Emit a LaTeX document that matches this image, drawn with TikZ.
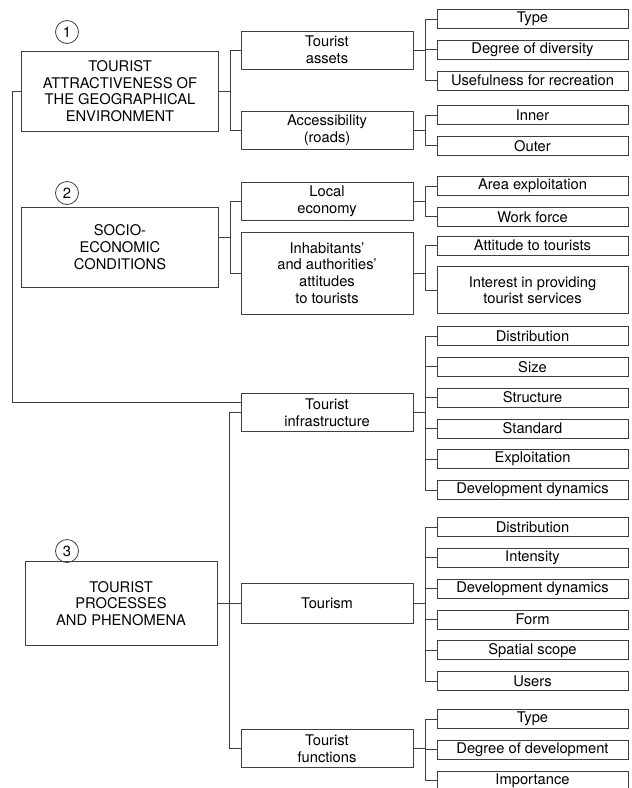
\documentclass[tikz,border=0pt]{standalone}
\usepackage{fontspec}
\setmainfont{TeX Gyre Heros}
\usepackage{tikz}
\usetikzlibrary{positioning}

\begin{document}
\begin{tikzpicture}[
	x=1pt, y=-1pt,
	font=\fontsize{14.7}{16.7}\selectfont,
	% Node styles
	topic/.style={
		rectangle, draw=black!75, line width=0.8pt,
		minimum width=197pt, align=center, inner sep=2pt
	},
	factor/.style={
		rectangle, draw=black!75, line width=0.8pt,
		minimum width=172pt, minimum height=38pt,
		align=center, inner sep=2pt
	},
	leaf/.style={
		rectangle, draw=black!75, line width=0.8pt,
		minimum width=191pt, minimum height=19pt,
		align=center, inner sep=2pt
	},
	num/.style={
		circle, draw=black!75, line width=0.8pt,
		minimum size=23pt, inner sep=0pt
	},
	link/.style={draw=black!75, line width=0.8pt}
	]
	
	\useasboundingbox (0,0) rectangle (632,788);
	
	%% ─── COLUMN 1: MAIN GROUPS ────────────────────────────────────────────────
	\node[num] (c1) at (67,32) {1};
	\node[topic, minimum height=80pt] (env) at (120,91)
	{TOURIST\\ATTRACTIVENESS OF\\THE GEOGRAPHICAL\\ENVIRONMENT};
	
	\node[num] (c2) at (67,193) {2};
	\node[topic, minimum height=80pt] (socio) at (120,247)
	{SOCIO-\\ECONOMIC\\CONDITIONS};
	
	\node[num] (c3) at (67,551) {3};
	\node[topic, minimum width=192pt, minimum height=84pt] (proc) at (121,603.5)
	{TOURIST\\PROCESSES\\AND PHENOMENA};
	
	%% ─── COLUMN 2: FACTORS ────────────────────────────────────────────────────
	\node[factor] (assets)  at (327,50)    {Tourist\\assets};
	\node[factor] (access)  at (327,130)   {Accessibility\\(roads)};
	\node[factor] (economy) at (327,201.5) {Local\\economy};
	\node[factor, minimum height=82pt] (inhab) at (327,273)
	{Inhabitants'\\and authorities'\\attitudes\\to tourists};
	\node[factor] (infra)   at (327,412.5) {Tourist\\infrastructure};
	\node[factor, minimum height=40pt] (tourism) at (327,603.5) {Tourism};
	\node[factor] (functions) at (327,748.5) {Tourist\\functions};
	
	%% ─── COLUMN 3: FEATURES ───────────────────────────────────────────────────
	\node[leaf] (type1) at (532.5,19) {Type};
	\node[leaf, below=11pt of type1] (diversity) {Degree of diversity};
	\node[leaf, below=11pt of diversity] (useful) {Usefulness for recreation};
	
	\node[leaf] (inner) at (532.5,115) {Inner};
	\node[leaf, below=11pt of inner] (outer) {Outer};
	
	\node[leaf] (area) at (532.5,186) {Area exploitation};
	\node[leaf, below=11pt of area] (workforce) {Work force};
	
	\node[leaf] (attitude) at (532.5,245.5) {Attitude to tourists};
	\node[leaf, below=11pt of attitude, minimum height=47pt] (interest)
	{Interest in providing\\tourist services};
	
	\node[leaf] (idist) at (532.5,336) {Distribution};
	\node[leaf, below=11pt of idist]  (isize)   {Size};
	\node[leaf, below=11pt of isize]  (istruct) {Structure};
	\node[leaf, below=11pt of istruct] (istand) {Standard};
	\node[leaf, below=11pt of istand] (iexpl)   {Exploitation};
	\node[leaf, below=11pt of iexpl]  (idyn)    {Development dynamics};
	
	\node[leaf] (tdist) at (532.5,527) {Distribution};
	\node[leaf, below=11pt of tdist]  (tint)    {Intensity};
	\node[leaf, below=11pt of tint]   (tdyn)    {Development dynamics};
	\node[leaf, below=11pt of tdyn]   (tform)   {Form};
	\node[leaf, below=11pt of tform]  (tscope)  {Spatial scope};
	\node[leaf, below=11pt of tscope] (tusers)  {Users};
	
	\node[leaf] (ftype) at (532.5,719) {Type};
	\node[leaf, below=11pt of ftype] (fdeg) {Degree of development};
	\node[leaf, below=11pt of fdeg]  (fimp) {Importance};
	
	%% ─── CONNECTORS ───────────────────────────────────────────────────────────
	\draw[link] (env.east) -- ++(11,0) |- (assets.west);
	\draw[link] (env.east) -- ++(11,0) |- (access.west);
	\draw[link] ([yshift=10pt]socio.east) -- ++(11,0) |- (economy.west);
	\draw[link] ([yshift=10pt]socio.east) -- ++(11,0) |- (inhab.west);
	
	\draw[link] (env.west) -- ++(-9,0) |- ([yshift=10pt]infra.west);
	\draw[link] (infra.west) -- ++(-11,0) |- (functions.west);
	\draw[link] (proc.east) -- (tourism.west);
	
	\draw[link] (assets.east) -- ++(12,0) |- (type1.west);
	\draw[link] (assets.east) -- ++(12,0) |- (diversity.west);
	\draw[link] (assets.east) -- ++(12,0) |- (useful.west);
	
	\draw[link] (access.east) -- ++(12,0) |- (inner.west);
	\draw[link] (access.east) -- ++(12,0) |- (outer.west);
	
	\draw[link] (economy.east) -- ++(12,0) |- (area.west);
	\draw[link] (economy.east) -- ++(12,0) |- (workforce.west);
	
	\draw[link] (inhab.east) -- ++(12,0) |- (attitude.west);
	\draw[link] (inhab.east) -- ++(12,0) |- (interest.west);
	
	\draw[link] (infra.east) -- ++(12,0) |- (idist.west);
	\draw[link] (infra.east) -- ++(12,0) |- (isize.west);
	\draw[link] (infra.east) -- ++(12,0) |- (istruct.west);
	\draw[link] (infra.east) -- ++(12,0) |- (istand.west);
	\draw[link] (infra.east) -- ++(12,0) |- (iexpl.west);
	\draw[link] (infra.east) -- ++(12,0) |- (idyn.west);
	
	\draw[link] (tourism.east) -- ++(12,0) |- (tdist.west);
	\draw[link] (tourism.east) -- ++(12,0) |- (tint.west);
	\draw[link] (tourism.east) -- ++(12,0) |- (tdyn.west);
	\draw[link] (tourism.east) -- ++(12,0) |- (tform.west);
	\draw[link] (tourism.east) -- ++(12,0) |- (tscope.west);
	\draw[link] (tourism.east) -- ++(12,0) |- (tusers.west);
	
	\draw[link] (functions.east) -- ++(12,0) |- (ftype.west);
	\draw[link] (functions.east) -- ++(12,0) |- (fdeg.west);
	\draw[link] (functions.east) -- ++(12,0) |- (fimp.west);
	
\end{tikzpicture}
\end{document}
